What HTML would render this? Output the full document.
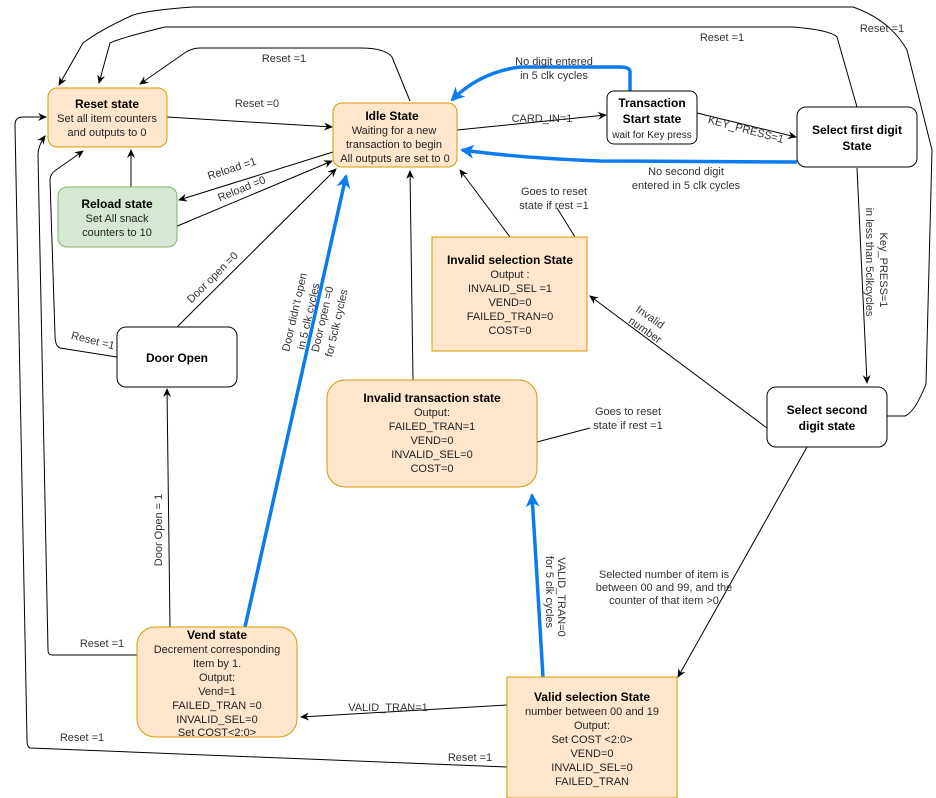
<!DOCTYPE html>
<html><head><meta charset="utf-8"><style>
body{margin:0;background:#fff}
svg{display:block}
text{font-family:"Liberation Sans",sans-serif;font-size:11px;fill:#222}
.t{font-weight:bold;font-size:12px;fill:#000}
.l{fill:#333}
.e{fill:none;stroke:#000;stroke-width:1}
.b{fill:none;stroke:#0a7cf0;stroke-width:3.5}
</style></head><body>
<svg width="936" height="798" viewBox="0 0 936 798" xmlns="http://www.w3.org/2000/svg">
<defs>
<marker id="a" markerWidth="10" markerHeight="10" refX="8" refY="5" orient="auto" markerUnits="userSpaceOnUse"><path d="M0,1 L9,5 L0,9 L3,5 Z" fill="#000"/></marker>
<marker id="ab" markerWidth="18" markerHeight="18" refX="12" refY="8" orient="auto" markerUnits="userSpaceOnUse"><path d="M0,1 L14,8 L0,15 L4,8 Z" fill="#0a7cf0"/></marker>
</defs>

<!-- edges -->
<path class="e" d="M887,416 L905,416 Q915,412 926,384 L932,150 L907,50 Q890,20 853,7 L193,7 Q150,10 133,15 Q100,30 83,43 L59,85" marker-end="url(#a)"/>
<path class="e" d="M857,107 L837,37 Q830,30 793,27 L165,27 Q120,38 110,43 L99,83" marker-end="url(#a)"/>
<path class="e" d="M410,101 L392,57 Q385,48 360,48 L200,48 Q193,48 186,52 L140,84" marker-end="url(#a)"/>
<path class="e" d="M167,117 L332,127" marker-end="url(#a)"/>
<path class="e" d="M131,187 L131,150" marker-end="url(#a)"/>
<path class="e" d="M333,152 L179,200" marker-end="url(#a)"/>
<path class="e" d="M175,227 L332,161" marker-end="url(#a)"/>
<path class="e" d="M177,327 L336,169" marker-end="url(#a)"/>
<path class="e" d="M117,357 L60,348 Q55,346 55,335 L50,180 Q50,174 56,170 L83,151" marker-end="url(#a)"/>
<path class="e" d="M457,130 L606,115" marker-end="url(#a)"/>
<path class="e" d="M697,113 L796,137" marker-end="url(#a)"/>
<path class="e" d="M857,168 L867,383" marker-end="url(#a)"/>
<path class="e" d="M767,428 L590,296" marker-end="url(#a)"/>
<path class="e" d="M807,447 L678,677" marker-end="url(#a)"/>
<path class="e" d="M510,237 L460,170" marker-end="url(#a)"/>
<path class="e" d="M575,237 L557,208"/>
<path class="e" d="M413,380 L410,171" marker-end="url(#a)"/>
<path class="e" d="M537,442 L590,428"/>
<path class="e" d="M507,705 L301,717" marker-end="url(#a)"/>
<path class="e" d="M507,767 L30,748 Q27,747 27,740 L15,125 Q15,117 23,117 L46,117" marker-end="url(#a)"/>
<path class="e" d="M137,655 L52,655 Q48,655 48,650 L38,155 Q38,146 45,136" marker-end="url(#a)"/>
<path class="e" d="M170,627 L167,389" marker-end="url(#a)"/>
<!-- blue -->
<path class="b" d="M630,91 L630,72 Q630,67 620,67 L520,67 Q480,72 452,100" marker-end="url(#ab)"/>
<path class="b" d="M797,162 L600,161 Q520,158 462,150" marker-end="url(#ab)"/>
<path class="b" d="M245,627 L346,176" marker-end="url(#ab)"/>
<path class="b" d="M543,677 L532,495" marker-end="url(#ab)"/>

<!-- nodes -->
<rect x="48" y="88" width="119" height="59" rx="9" fill="#ffe6cc" stroke="#d79b00"/>
<text x="107" y="108" text-anchor="middle" class="t">Reset state</text>
<text x="107" y="122" text-anchor="middle">Set all item counters</text>
<text x="107" y="136" text-anchor="middle">and outputs to 0</text>

<rect x="333" y="103" width="124" height="64" rx="9" fill="#ffe6cc" stroke="#d79b00"/>
<text x="392" y="120" text-anchor="middle" class="t">Idle State</text>
<text x="394" y="134" text-anchor="middle">Waiting for a new</text>
<text x="394" y="148" text-anchor="middle">transaction to begin</text>
<text x="395" y="162" text-anchor="middle">All outputs are set to 0</text>

<rect x="58" y="187" width="119" height="60" rx="9" fill="#d5e8d4" stroke="#82b366"/>
<text x="117" y="208" text-anchor="middle" class="t">Reload state</text>
<text x="117" y="222" text-anchor="middle">Set All snack</text>
<text x="117" y="236" text-anchor="middle">counters to 10</text>

<rect x="117" y="327" width="120" height="60" rx="9" fill="#fff" stroke="#000"/>
<text x="177" y="362" text-anchor="middle" class="t">Door Open</text>

<rect x="607" y="91" width="90" height="53" rx="7" fill="#fff" stroke="#000"/>
<text x="652" y="107" text-anchor="middle" class="t">Transaction</text>
<text x="652" y="123" text-anchor="middle" class="t">Start state</text>
<text x="652" y="138" text-anchor="middle" style="font-size:10px">wait for Key press</text>

<rect x="797" y="107" width="120" height="60" rx="9" fill="#fff" stroke="#000"/>
<text x="857" y="134" text-anchor="middle" class="t">Select first digit</text>
<text x="857" y="150" text-anchor="middle" class="t">State</text>

<rect x="432" y="237" width="155" height="114" fill="#ffe6cc" stroke="#d79b00"/>
<text x="510" y="264" text-anchor="middle" class="t">Invalid selection  State</text>
<text x="510" y="278" text-anchor="middle">Output :</text>
<text x="510" y="292" text-anchor="middle">INVALID_SEL =1</text>
<text x="510" y="306" text-anchor="middle">VEND=0</text>
<text x="510" y="320" text-anchor="middle">FAILED_TRAN=0</text>
<text x="510" y="334" text-anchor="middle">COST=0</text>

<rect x="327" y="380" width="210" height="107" rx="18" fill="#ffe6cc" stroke="#d79b00"/>
<text x="432" y="402" text-anchor="middle" class="t">Invalid transaction state</text>
<text x="432" y="416" text-anchor="middle">Output:</text>
<text x="432" y="430" text-anchor="middle">FAILED_TRAN=1</text>
<text x="432" y="444" text-anchor="middle">VEND=0</text>
<text x="432" y="458" text-anchor="middle">INVALID_SEL=0</text>
<text x="432" y="472" text-anchor="middle">COST=0</text>

<rect x="767" y="387" width="120" height="60" rx="9" fill="#fff" stroke="#000"/>
<text x="827" y="414" text-anchor="middle" class="t">Select second</text>
<text x="827" y="430" text-anchor="middle" class="t">digit state</text>

<rect x="137" y="627" width="160" height="110" rx="18" fill="#ffe6cc" stroke="#d79b00"/>
<text x="217" y="639" text-anchor="middle" class="t">Vend state</text>
<text x="217" y="653" text-anchor="middle">Decrement corresponding</text>
<text x="217" y="667" text-anchor="middle">Item by 1.</text>
<text x="217" y="681" text-anchor="middle">Output:</text>
<text x="217" y="695" text-anchor="middle">Vend=1</text>
<text x="217" y="709" text-anchor="middle">FAILED_TRAN =0</text>
<text x="217" y="723" text-anchor="middle">INVALID_SEL=0</text>
<text x="217" y="736" text-anchor="middle">Set COST&lt;2:0&gt;</text>

<rect x="507" y="677" width="170" height="121" fill="#ffe6cc" stroke="#d79b00"/>
<text x="592" y="701" text-anchor="middle" class="t">Valid selection  State</text>
<text x="592" y="715" text-anchor="middle">number between 00 and 19</text>
<text x="592" y="729" text-anchor="middle">Output:</text>
<text x="592" y="743" text-anchor="middle">Set COST &lt;2:0&gt;</text>
<text x="592" y="757" text-anchor="middle">VEND=0</text>
<text x="592" y="771" text-anchor="middle">INVALID_SEL=0</text>
<text x="592" y="785" text-anchor="middle">FAILED_TRAN</text>

<!-- labels -->
<text x="284" y="62" text-anchor="middle" class="l">Reset =1</text>
<text x="722" y="41" text-anchor="middle" class="l">Reset =1</text>
<text x="882" y="32" text-anchor="middle" class="l">Reset =1</text>
<text x="257" y="107" text-anchor="middle" class="l">Reset =0</text>
<text x="542" y="122" text-anchor="middle" class="l">CARD_IN=1</text>
<text x="745" y="133" text-anchor="middle" class="l" transform="rotate(15 745 133)">KEY_PRESS=1</text>
<text x="554" y="65" text-anchor="middle" class="l">No digit entered</text>
<text x="554" y="79" text-anchor="middle" class="l">in 5 clk cycles</text>
<text x="686" y="175" text-anchor="middle" class="l">No second digit</text>
<text x="686" y="189" text-anchor="middle" class="l">entered in 5 clk cycles</text>
<text x="554" y="195" text-anchor="middle" class="l">Goes to reset</text>
<text x="554" y="209" text-anchor="middle" class="l">state if rest =1</text>
<text x="628" y="415" text-anchor="middle" class="l">Goes to reset</text>
<text x="628" y="429" text-anchor="middle" class="l">state if rest =1</text>
<text x="880" y="270" text-anchor="middle" class="l" transform="rotate(90 880 270)">Key_PRESS=1</text>
<text x="866" y="262" text-anchor="middle" class="l" transform="rotate(90 866 262)">in less than 5clkcycles</text>
<text x="648" y="320" text-anchor="middle" class="l" transform="rotate(35 648 320)">Invalid</text>
<text x="643" y="333" text-anchor="middle" class="l" transform="rotate(35 643 333)">number</text>
<text x="664" y="578" text-anchor="middle" class="l">Selected number of item is</text>
<text x="664" y="591" text-anchor="middle" class="l">between 00 and 99, and the</text>
<text x="664" y="604" text-anchor="middle" class="l">counter of that item &gt;0</text>
<text x="558" y="597" text-anchor="middle" class="l" transform="rotate(90 558 597)">VALID_TRAN=0</text>
<text x="546" y="592" text-anchor="middle" class="l" transform="rotate(90 546 592)">for 5 clk cycles</text>
<text x="388" y="711" text-anchor="middle" class="l">VALID_TRAN=1</text>
<text x="470" y="761" text-anchor="middle" class="l">Reset =1</text>
<text x="82" y="741" text-anchor="middle" class="l">Reset =1</text>
<text x="102" y="647" text-anchor="middle" class="l">Reset =1</text>
<text x="162" y="530" text-anchor="middle" class="l" transform="rotate(-90 162 530)">Door Open = 1</text>
<text x="215" y="280" text-anchor="middle" class="l" transform="rotate(-45 215 280)">Door open =0</text>
<text x="92" y="344" text-anchor="middle" class="l" transform="rotate(14 92 344)">Reset =1</text>
<text x="233" y="172" text-anchor="middle" class="l" transform="rotate(-18 233 172)">Reload =1</text>
<text x="243" y="192" text-anchor="middle" class="l" transform="rotate(-22 243 192)">Reload =0</text>
<text x="298" y="313" text-anchor="middle" class="l" transform="rotate(-77 298 313)">Door didn't open</text>
<text x="312" y="317" text-anchor="middle" class="l" transform="rotate(-77 312 317)">in 5 clk cycles</text>
<text x="326" y="320" text-anchor="middle" class="l" transform="rotate(-77 326 320)">Door open =0</text>
<text x="340" y="324" text-anchor="middle" class="l" transform="rotate(-77 340 324)">for 5clk cycles</text>
</svg>
</body></html>
